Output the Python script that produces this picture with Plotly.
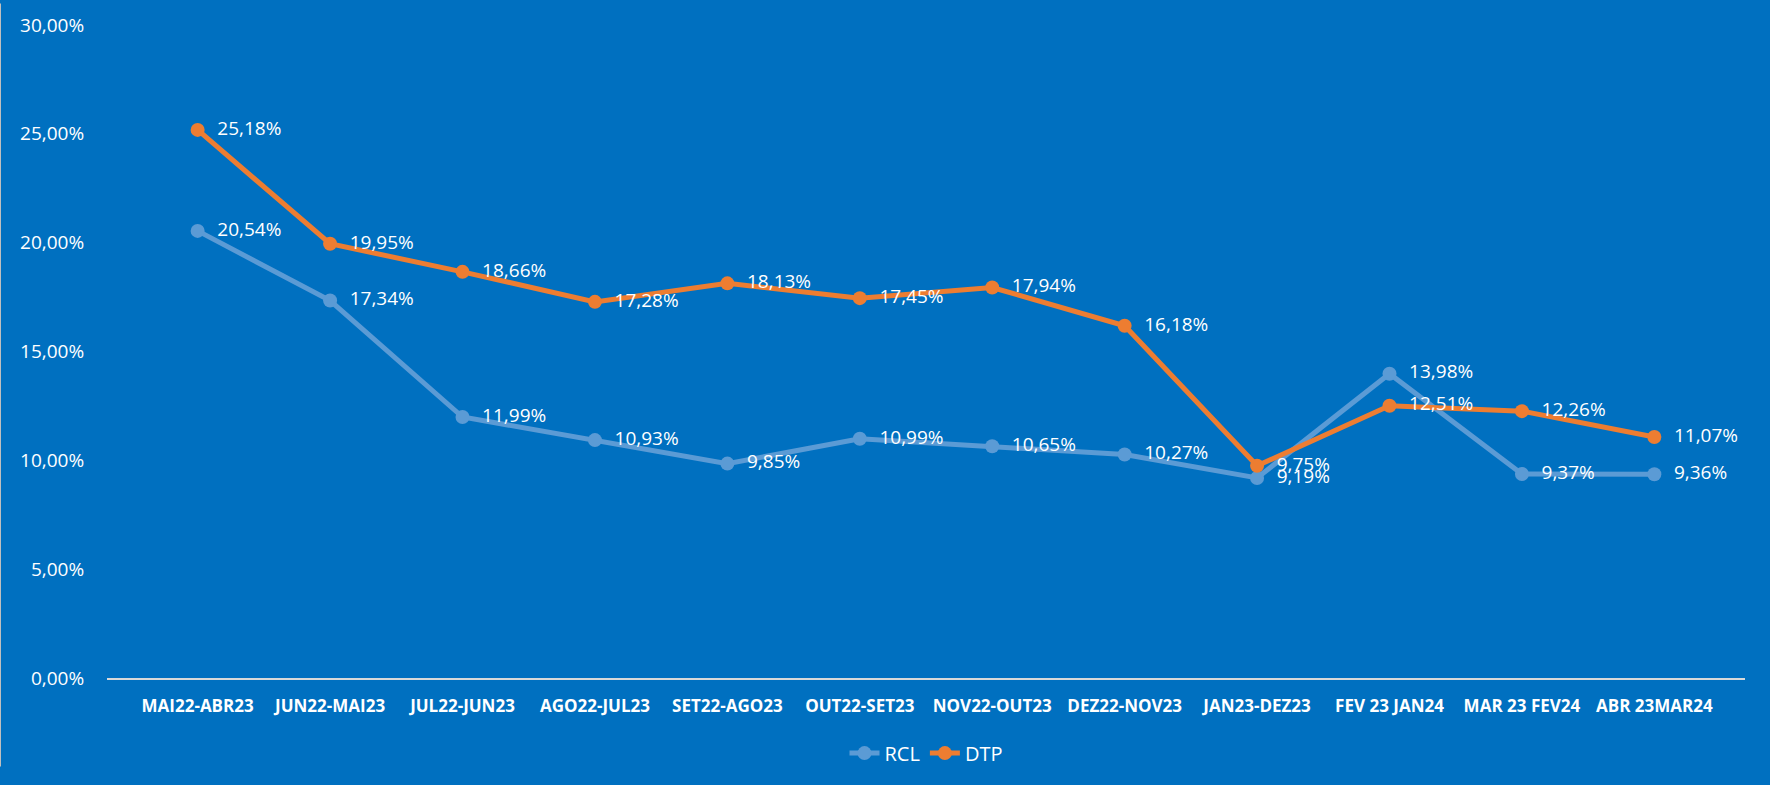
import plotly.graph_objects as go

categories = ["MAI22-ABR23", "JUN22-MAI23", "JUL22-JUN23", "AGO22-JUL23", "SET22-AGO23",
              "OUT22-SET23", "NOV22-OUT23", "DEZ22-NOV23", "JAN23-DEZ23", "FEV 23 JAN24",
              "MAR 23 FEV24", "ABR 23MAR24"]
rcl = [20.54, 17.34, 11.99, 10.93, 9.85, 10.99, 10.65, 10.27, 9.19, 13.98, 9.37, 9.36]
dtp = [25.18, 19.95, 18.66, 17.28, 18.13, 17.45, 17.94, 16.18, 9.75, 12.51, 12.26, 11.07]
y_ticks = [0, 5, 10, 15, 20, 25, 30]
y_tick_labels = ["0,00%", "5,00%", "10,00%", "15,00%", "20,00%", "25,00%", "30,00%"]

BG = "#0070C0"
FONT = "Open Sans"

fig = go.Figure()
for name, vals, color in [("RCL", rcl, "#5B9BD5"), ("DTP", dtp, "#ED7D31")]:
    fig.add_trace(go.Scatter(
        x=categories, y=vals, name=name, mode="lines+markers+text",
        line=dict(color=color, width=5),
        marker=dict(color=color, size=14),
        texttemplate="  %{y:.2f}%", textposition="middle right",
        textfont=dict(color="white", size=19, family=FONT),
        cliponaxis=False,
    ))

fig.update_layout(
    width=1770, height=785,
    paper_bgcolor=BG, plot_bgcolor=BG,
    separators=",.",
    margin=dict(l=107, r=25, t=22, b=91),
    font=dict(family=FONT, color="white"),
    showlegend=True,
    legend=dict(orientation="h", x=0.5, xanchor="center", y=-0.115, yanchor="middle",
                font=dict(size=20, color="white", family=FONT), bgcolor="rgba(0,0,0,0)"),
    xaxis=dict(showgrid=False, showline=True, linecolor="#D9D9D9", linewidth=2,
               tickfont=dict(size=17, color="white", family=FONT, weight="bold"),
               ticks="outside", ticklen=12, tickcolor="rgba(0,0,0,0)", zeroline=False),
    yaxis=dict(range=[0, 30], tickvals=y_ticks, ticktext=y_tick_labels,
               showgrid=False, zeroline=False, showline=False,
               tickfont=dict(size=19, color="white", family=FONT),
               ticks="outside", ticklen=18, tickcolor="rgba(0,0,0,0)"),
    shapes=[dict(type="line", xref="paper", yref="paper", x0=-107/1638, x1=-107/1638,
                 y0=-91/672, y1=1 + 22/672, line=dict(color="#BFBFBF", width=2))],
)
fig.write_html("out.html", config={"displayModeBar": False},
               post_script="document.body.style.margin='0';document.documentElement.style.margin='0';")
